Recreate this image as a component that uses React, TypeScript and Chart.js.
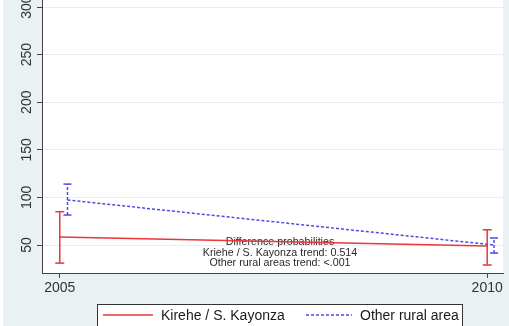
import React, { useEffect, useRef } from "react";
import { Chart, registerables } from "chart.js";

Chart.register(...registerables);

// ---- data ----
const years = [2005, 2010];
const otherYears = [2005.09, 2010.08];
const kireheMean = [58.4, 49];
const kireheLow = [31, 29];
const kireheHigh = [85, 66];
const otherMean = [97.3, 50];
const otherLow = [81.5, 41.6];
const otherHigh = [114, 57.4];
const yTicks = [50, 100, 150, 200, 250, 300];
const xTicks = [2005, 2010];
const seriesLabels = ["Kirehe / S. Kayonza", "Other rural area"];
const noteLines = [
  "Difference probabilities",
  "Kriehe / S. Kayonza trend: 0.514",
  "Other rural areas trend: <.001",
];

const RED = "#e8363a";
const BLUE = "#4b4be6";
const OUTER_BG = "#e9f1f3";
const AXIS = "#444444";
const TEXT = "#2a2a2a";
const FONT = "'Liberation Sans', Arial, sans-serif";

const W = 509;
const H = 346;
const TOP_SHIFT = 20;

function ciData(xs: number[], lo: number[], hi: number[]) {
  const out: { x: number; y: number | null }[] = [];
  xs.forEach((x, i) => {
    if (i > 0) out.push({ x, y: null });
    out.push({ x, y: lo[i] }, { x, y: hi[i] });
  });
  return out;
}

const decorPlugin = {
  id: "decor",
  beforeDraw(chart: any) {
    const { ctx, chartArea } = chart;
    ctx.save();
    ctx.fillStyle = OUTER_BG;
    ctx.fillRect(0, 0, chart.width, chart.height);
    ctx.fillStyle = "#ffffff";
    ctx.fillRect(0, 0, 3, chart.height);
    ctx.fillRect(
      chartArea.left,
      chartArea.top,
      chartArea.right - chartArea.left,
      chartArea.bottom - chartArea.top
    );
    ctx.restore();
  },
  beforeDatasetsDraw(chart: any) {
    const { ctx } = chart;
    ctx.save();
    ctx.fillStyle = TEXT;
    ctx.font = `10.7px ${FONT}`;
    ctx.textAlign = "center";
    ctx.textBaseline = "middle";
    const cx = 280;
    const ys = [262, 273, 283.5];
    noteLines.forEach((t, i) => ctx.fillText(t, cx, ys[i]));
    ctx.restore();
  },
  afterDraw(chart: any) {
    const { ctx } = chart;
    const xs = chart.scales.x;
    const ysc = chart.scales.y;
    ctx.save();
    // y tick labels (rotated)
    ctx.fillStyle = "#333333";
    ctx.font = `14px ${FONT}`;
    ctx.textAlign = "center";
    ctx.textBaseline = "middle";
    yTicks.forEach((v) => {
      const py = ysc.getPixelForValue(v);
      ctx.save();
      ctx.translate(27, py);
      ctx.rotate(-Math.PI / 2);
      ctx.fillText(String(v), 0, 0);
      ctx.restore();
    });
    // x tick labels
    xTicks.forEach((v) => {
      const px = xs.getPixelForValue(v);
      ctx.fillText(String(v), px, chart.chartArea.bottom + 15);
    });
    // legend
    const top = 324;
    ctx.fillStyle = "#ffffff";
    ctx.fillRect(97, top, 365, 40);
    ctx.strokeStyle = "#333333";
    ctx.lineWidth = 1;
    ctx.strokeRect(97.5, top + 0.5, 365, 40);
    const ly = top + 11;
    ctx.lineWidth = 1.5;
    ctx.strokeStyle = RED;
    ctx.beginPath();
    ctx.moveTo(103, ly);
    ctx.lineTo(153, ly);
    ctx.stroke();
    ctx.strokeStyle = BLUE;
    ctx.setLineDash([3, 2]);
    ctx.beginPath();
    ctx.moveTo(306, ly);
    ctx.lineTo(352, ly);
    ctx.stroke();
    ctx.setLineDash([]);
    ctx.fillStyle = "#1a1a1a";
    ctx.font = `14px ${FONT}`;
    ctx.textAlign = "left";
    ctx.fillText(seriesLabels[0], 161, ly + 1);
    ctx.fillText(seriesLabels[1], 360, ly + 1);
    ctx.restore();
  },
};

export default function App() {
  const ref = useRef<HTMLCanvasElement | null>(null);

  useEffect(() => {
    document.body.style.overflow = "hidden";
    const canvas = ref.current;
    if (!canvas) return;
    const chart = new Chart(canvas, {
      type: "scatter",
      data: {
        datasets: [
          {
            label: seriesLabels[0] + " CI",
            data: ciData(years, kireheLow, kireheHigh),
            showLine: true,
            spanGaps: false,
            borderColor: RED,
            borderWidth: 1.5,
            pointStyle: "line",
            pointRadius: 4.5,
            pointBorderColor: RED,
            pointBackgroundColor: RED,
            pointBorderWidth: 1.5,
          },
          {
            label: seriesLabels[1] + " CI",
            data: ciData(otherYears, otherLow, otherHigh),
            showLine: true,
            spanGaps: false,
            borderColor: BLUE,
            borderWidth: 1.5,
            borderDash: [3, 2],
            pointStyle: "line",
            pointRadius: 4,
            pointBorderColor: BLUE,
            pointBackgroundColor: BLUE,
            pointBorderWidth: 1.5,
          },
          {
            label: seriesLabels[0],
            data: years.map((x, i) => ({ x, y: kireheMean[i] })),
            showLine: true,
            borderColor: RED,
            borderWidth: 1.5,
            pointRadius: 0,
          },
          {
            label: seriesLabels[1],
            data: otherYears.map((x, i) => ({ x, y: otherMean[i] })),
            showLine: true,
            borderColor: BLUE,
            borderWidth: 1.5,
            borderDash: [3, 2],
            pointRadius: 0,
          },
        ],
      },
      options: {
        responsive: false,
        animation: false,
        devicePixelRatio: 1,
        layout: { padding: { top: 8, left: 0, right: 0, bottom: 0 } },
        plugins: {
          legend: { display: false },
          tooltip: { enabled: false },
        },
        scales: {
          x: {
            type: "linear",
            min: 2004.792,
            max: 2010.185,
            afterBuildTicks: (s: any) => {
              s.ticks = xTicks.map((v) => ({ value: v }));
            },
            ticks: { display: false },
            grid: {
              drawOnChartArea: false,
              tickLength: 5,
              tickColor: AXIS,
            },
            border: { color: AXIS, width: 1 },
            afterFit: (s: any) => {
              s.height = H - 293;
            },
          },
          y: {
            type: "linear",
            min: 20.6,
            max: 320,
            afterBuildTicks: (s: any) => {
              s.ticks = yTicks.map((v) => ({ value: v }));
            },
            ticks: { display: false },
            grid: {
              color: "#e7eff2",
              tickLength: 5,
              tickColor: AXIS,
            },
            border: { color: AXIS, width: 1 },
            afterFit: (s: any) => {
              s.width = 42;
            },
          },
        },
      },
      plugins: [decorPlugin],
    } as any);
    return () => chart.destroy();
  }, []);

  return (
    <div
      style={{
        position: "absolute",
        left: 0,
        top: -TOP_SHIFT,
        width: W,
        height: H,
      }}
    >
      <canvas ref={ref} width={W} height={H} style={{ display: "block" }} />
    </div>
  );
}
